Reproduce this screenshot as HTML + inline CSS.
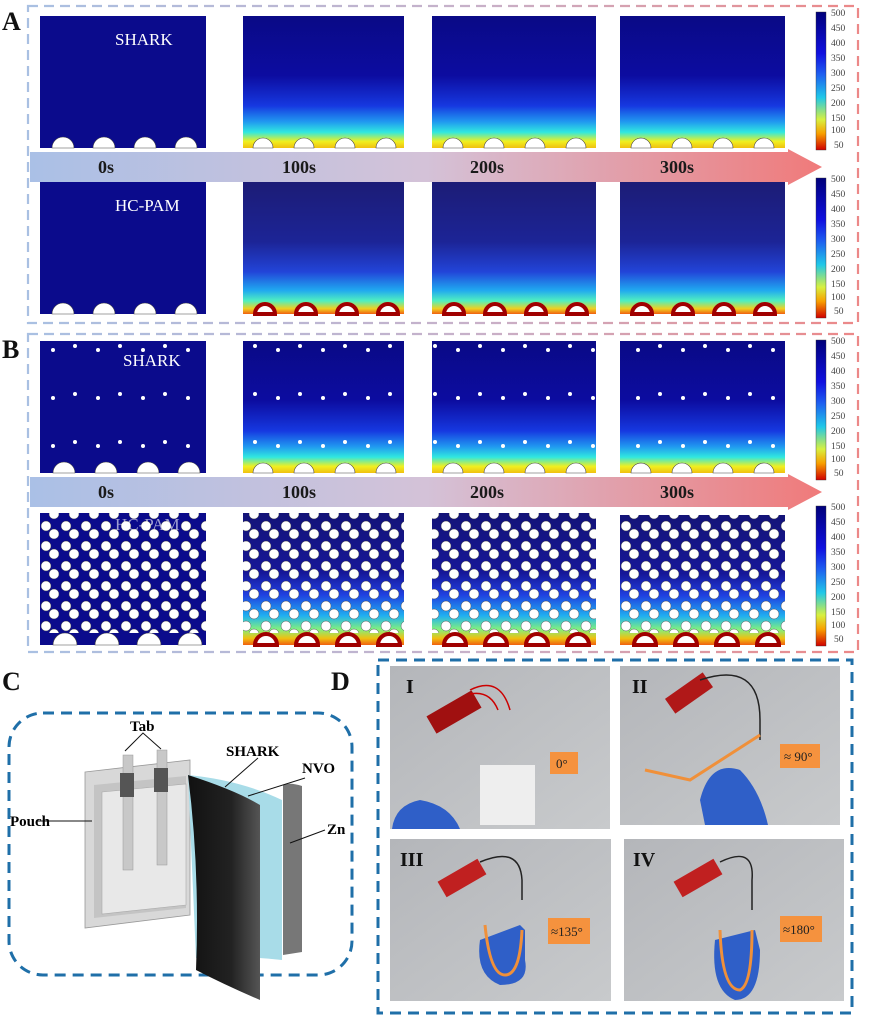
<!DOCTYPE html>
<html><head><meta charset="utf-8"><style>
html,body{margin:0;padding:0;background:#fff;width:870px;height:1028px;overflow:hidden}
svg{display:block}
text{font-family:"Liberation Serif",serif}
.cb{font-family:"Liberation Sans",sans-serif;font-size:9.5px;fill:#444}
.t{font-weight:bold;font-size:18px;fill:#1a1a1a}
.L{font-weight:bold;font-size:26px;fill:#111}
.r{font-weight:bold;font-size:20px;fill:#111}
.o{font-size:13px;fill:#222}
</style></head><body>
<svg width="870" height="1028" viewBox="0 0 870 1028" xmlns="http://www.w3.org/2000/svg">
<defs>
<linearGradient id="bd" x1="0" x2="1"><stop offset="0" stop-color="#a9c0e2"/><stop offset="0.55" stop-color="#c8b0c8"/><stop offset="1" stop-color="#ec8888"/></linearGradient>
<linearGradient id="ar" x1="0" x2="1"><stop offset="0" stop-color="#aac0e6"/><stop offset="0.5" stop-color="#d4c2d8"/><stop offset="1" stop-color="#f07a7a"/></linearGradient>
<linearGradient id="cbg" x1="0" y1="0" x2="0" y2="1"><stop offset="0" stop-color="#00007a"/><stop offset="0.3" stop-color="#1010e0"/><stop offset="0.45" stop-color="#1e5ef0"/><stop offset="0.62" stop-color="#20c8e8"/><stop offset="0.78" stop-color="#d8f040"/><stop offset="0.88" stop-color="#f8a000"/><stop offset="1" stop-color="#d00000"/></linearGradient>
<linearGradient id="gS" x1="0" y1="0" x2="0" y2="1"><stop offset="0" stop-color="#0a0a86"/><stop offset="0.45" stop-color="#0c0ca0"/><stop offset="0.68" stop-color="#1638e0"/><stop offset="0.8" stop-color="#2098f0"/><stop offset="0.88" stop-color="#30e8e0"/><stop offset="0.95" stop-color="#f0f020"/><stop offset="1" stop-color="#f0c010"/></linearGradient>
<linearGradient id="gH" x1="0" y1="0" x2="0" y2="1"><stop offset="0" stop-color="#1c1c76"/><stop offset="0.45" stop-color="#1c2496"/><stop offset="0.68" stop-color="#2244d8"/><stop offset="0.82" stop-color="#20a8f0"/><stop offset="0.9" stop-color="#50f0c0"/><stop offset="0.96" stop-color="#f0d020"/><stop offset="1" stop-color="#f06010"/></linearGradient>
<linearGradient id="gHB" x1="0" y1="0" x2="0" y2="1"><stop offset="0" stop-color="#141478"/><stop offset="0.45" stop-color="#161698"/><stop offset="0.62" stop-color="#2040e0"/><stop offset="0.78" stop-color="#20b0f0"/><stop offset="0.88" stop-color="#80f080"/><stop offset="0.95" stop-color="#f0c010"/><stop offset="1" stop-color="#f06010"/></linearGradient>
<linearGradient id="blk" x1="0" x2="1"><stop offset="0" stop-color="#111"/><stop offset="0.6" stop-color="#222"/><stop offset="1" stop-color="#555"/></linearGradient>
<linearGradient id="ph" x1="0" y1="0" x2="1" y2="1"><stop offset="0" stop-color="#b4b6ba"/><stop offset="1" stop-color="#c8cacc"/></linearGradient>
<pattern id="hp" width="20" height="20" patternUnits="userSpaceOnUse"><circle cx="6" cy="6" r="5" fill="#fff" stroke="#333" stroke-width="0.4"/><circle cx="14" cy="14" r="5" fill="#fff" stroke="#333" stroke-width="0.4"/></pattern>
<pattern id="sp" width="45" height="48" patternUnits="userSpaceOnUse"><circle cx="8" cy="14" r="2" fill="#fff"/><circle cx="30" cy="10" r="2" fill="#fff"/></pattern>
</defs>

<text x="2" y="30" class="L">A</text>
<rect x="28" y="6" width="830" height="317" fill="none" stroke="url(#bd)" stroke-width="2.2" stroke-dasharray="10 6"/>
<rect x="40" y="16" width="166" height="132" fill="#0b0b8c"/>
<rect x="243" y="16" width="161" height="132" fill="url(#gS)"/>
<rect x="432" y="16" width="164" height="132" fill="url(#gS)"/>
<rect x="620" y="16" width="165" height="132" fill="url(#gS)"/>
<text x="115" y="45" font-size="17" fill="#fff">SHARK</text>
<g fill="#fff" stroke="#444" stroke-width="0.6">
<path d="M52 148a11 11 0 0 1 22 0zM93 148a11 11 0 0 1 22 0zM134 148a11 11 0 0 1 22 0zM175 148a11 11 0 0 1 22 0z"/>
<path d="M253 148a10 10 0 0 1 20 0zM294 148a10 10 0 0 1 20 0zM335 148a10 10 0 0 1 20 0zM376 148a10 10 0 0 1 20 0z"/>
<path d="M443 148a10 10 0 0 1 20 0zM484 148a10 10 0 0 1 20 0zM525 148a10 10 0 0 1 20 0zM566 148a10 10 0 0 1 20 0z"/>
<path d="M631 148a10 10 0 0 1 20 0zM672 148a10 10 0 0 1 20 0zM713 148a10 10 0 0 1 20 0zM754 148a10 10 0 0 1 20 0z"/>
</g>
<rect x="816" y="12" width="10" height="138" fill="url(#cbg)" stroke="#333" stroke-width="0.4"/>
<g class="cb"><text x="831" y="16">500</text><text x="831" y="31">450</text><text x="831" y="46">400</text><text x="831" y="61">350</text><text x="831" y="76">300</text><text x="831" y="91">250</text><text x="831" y="106">200</text><text x="831" y="121">150</text><text x="831" y="133">100</text><text x="834" y="148">50</text></g>
<path d="M30 152H788V149L822 167L788 185V182H30Z" fill="url(#ar)"/>
<g class="t"><text x="98" y="173">0s</text><text x="282" y="173">100s</text><text x="470" y="173">200s</text><text x="660" y="173">300s</text></g>
<rect x="40" y="182" width="166" height="132" fill="#0b0b8c"/>
<rect x="243" y="182" width="161" height="132" fill="url(#gH)"/>
<rect x="432" y="182" width="164" height="132" fill="url(#gH)"/>
<rect x="620" y="182" width="165" height="132" fill="url(#gH)"/>
<text x="115" y="211" font-size="17" fill="#fff">HC-PAM</text>
<g fill="#fff" stroke="#444" stroke-width="0.6">
<path d="M52 314a11 11 0 0 1 22 0zM93 314a11 11 0 0 1 22 0zM134 314a11 11 0 0 1 22 0zM175 314a11 11 0 0 1 22 0z"/></g>
<g fill="#fff" stroke="#a00000" stroke-width="4">
<path d="M255 314a10 10 0 0 1 20 0zM296 314a10 10 0 0 1 20 0zM337 314a10 10 0 0 1 20 0zM378 314a10 10 0 0 1 20 0z"/>
<path d="M444 314a10 10 0 0 1 20 0zM485 314a10 10 0 0 1 20 0zM526 314a10 10 0 0 1 20 0zM567 314a10 10 0 0 1 20 0z"/>
<path d="M632 314a10 10 0 0 1 20 0zM673 314a10 10 0 0 1 20 0zM714 314a10 10 0 0 1 20 0zM755 314a10 10 0 0 1 20 0z"/>
</g>
<rect x="816" y="178" width="10" height="140" fill="url(#cbg)" stroke="#333" stroke-width="0.4"/>
<g class="cb"><text x="831" y="182">500</text><text x="831" y="197">450</text><text x="831" y="212">400</text><text x="831" y="227">350</text><text x="831" y="242">300</text><text x="831" y="257">250</text><text x="831" y="272">200</text><text x="831" y="287">150</text><text x="831" y="300">100</text><text x="834" y="314">50</text></g>

<text x="2" y="358" class="L">B</text>
<rect x="28" y="334" width="830" height="318" fill="none" stroke="url(#bd)" stroke-width="2.2" stroke-dasharray="10 6"/>
<rect x="40" y="341" width="166" height="132" fill="#0b0b8c"/>
<rect x="243" y="341" width="161" height="132" fill="url(#gS)"/>
<rect x="432" y="341" width="164" height="132" fill="url(#gS)"/>
<rect x="620" y="341" width="165" height="132" fill="url(#gS)"/>
<rect x="40" y="341" width="166" height="120" fill="url(#sp)"/>
<rect x="243" y="341" width="161" height="120" fill="url(#sp)"/>
<rect x="432" y="341" width="164" height="120" fill="url(#sp)"/>
<rect x="620" y="341" width="165" height="120" fill="url(#sp)"/>
<text x="123" y="366" font-size="17" fill="#fff">SHARK</text>
<g fill="#fff" stroke="#444" stroke-width="0.6">
<path d="M53 473a11 11 0 0 1 22 0zM95 473a11 11 0 0 1 22 0zM137 473a11 11 0 0 1 22 0zM178 473a11 11 0 0 1 22 0z"/>
<path d="M253 473a10 10 0 0 1 20 0zM294 473a10 10 0 0 1 20 0zM335 473a10 10 0 0 1 20 0zM376 473a10 10 0 0 1 20 0z"/>
<path d="M443 473a10 10 0 0 1 20 0zM484 473a10 10 0 0 1 20 0zM525 473a10 10 0 0 1 20 0zM566 473a10 10 0 0 1 20 0z"/>
<path d="M631 473a10 10 0 0 1 20 0zM672 473a10 10 0 0 1 20 0zM713 473a10 10 0 0 1 20 0zM754 473a10 10 0 0 1 20 0z"/>
</g>
<rect x="816" y="340" width="10" height="140" fill="url(#cbg)" stroke="#333" stroke-width="0.4"/>
<g class="cb"><text x="831" y="344">500</text><text x="831" y="359">450</text><text x="831" y="374">400</text><text x="831" y="389">350</text><text x="831" y="404">300</text><text x="831" y="419">250</text><text x="831" y="434">200</text><text x="831" y="449">150</text><text x="831" y="462">100</text><text x="834" y="476">50</text></g>
<path d="M30 477H788V474L822 492L788 510V507H30Z" fill="url(#ar)"/>
<g class="t"><text x="98" y="498">0s</text><text x="282" y="498">100s</text><text x="470" y="498">200s</text><text x="660" y="498">300s</text></g>
<rect x="40" y="513" width="166" height="132" fill="#0b0b8c"/>
<rect x="243" y="513" width="161" height="132" fill="url(#gHB)"/>
<rect x="432" y="513" width="164" height="132" fill="url(#gHB)"/>
<rect x="620" y="515" width="165" height="130" fill="url(#gHB)"/>
<rect x="40" y="513" width="166" height="120" fill="url(#hp)"/>
<rect x="243" y="513" width="161" height="120" fill="url(#hp)"/>
<rect x="432" y="513" width="164" height="120" fill="url(#hp)"/>
<rect x="620" y="515" width="165" height="118" fill="url(#hp)"/>
<text x="115" y="530" font-size="17" fill="#fff" opacity="0.6">HC-PAM</text>
<g fill="#fff" stroke="#444" stroke-width="0.6">
<path d="M53 645a12 12 0 0 1 24 0zM95 645a12 12 0 0 1 24 0zM137 645a12 12 0 0 1 24 0zM178 645a12 12 0 0 1 24 0z"/></g>
<g fill="#fff" stroke="#a00000" stroke-width="4">
<path d="M255 645a11 11 0 0 1 22 0zM296 645a11 11 0 0 1 22 0zM337 645a11 11 0 0 1 22 0zM378 645a11 11 0 0 1 22 0z"/>
<path d="M444 645a11 11 0 0 1 22 0zM485 645a11 11 0 0 1 22 0zM526 645a11 11 0 0 1 22 0zM567 645a11 11 0 0 1 22 0z"/>
<path d="M634 645a11 11 0 0 1 22 0zM675 645a11 11 0 0 1 22 0zM716 645a11 11 0 0 1 22 0zM757 645a11 11 0 0 1 22 0z"/>
</g>
<rect x="816" y="506" width="10" height="140" fill="url(#cbg)" stroke="#333" stroke-width="0.4"/>
<g class="cb"><text x="831" y="510">500</text><text x="831" y="525">450</text><text x="831" y="540">400</text><text x="831" y="555">350</text><text x="831" y="570">300</text><text x="831" y="585">250</text><text x="831" y="600">200</text><text x="831" y="615">150</text><text x="831" y="628">100</text><text x="834" y="642">50</text></g>

<text x="2" y="690" class="L">C</text>
<rect x="9" y="713" width="343" height="262" rx="34" fill="none" stroke="#1f6fa8" stroke-width="3" stroke-dasharray="11 7"/>
<path d="M85 772L190 760V915L85 928Z" fill="#d8d8d8" stroke="#999" stroke-width="0.8"/>
<path d="M94 785L186 776V908L94 918Z" fill="#c4c4c4"/>
<path d="M102 792L186 784V905L102 914Z" fill="#e8e8e8" stroke="#aaa" stroke-width="0.6"/>
<rect x="123" y="755" width="10" height="115" fill="#c8c8c8" stroke="#999" stroke-width="0.5"/>
<rect x="157" y="750" width="10" height="115" fill="#c8c8c8" stroke="#999" stroke-width="0.5"/>
<rect x="120" y="773" width="14" height="24" fill="#555"/>
<rect x="154" y="768" width="14" height="24" fill="#555"/>
<path d="M125 751L143 733L161 749" fill="none" stroke="#111" stroke-width="1"/>
<text x="130" y="731" font-size="15" font-weight="bold">Tab</text>
<path d="M283 785Q290 782 302 786V952L283 955Z" fill="#777"/>
<path d="M188 775Q240 780 282 800V960Q240 955 196 958Z" fill="#a8dce8"/>
<path d="M188 775Q235 790 260 805V1000Q225 985 196 970Q200 870 188 775Z" fill="url(#blk)"/>
<path d="M36 821H92" stroke="#111" stroke-width="1"/>
<text x="10" y="826" font-size="15" font-weight="bold">Pouch</text>
<path d="M225 787L258 758" stroke="#111"/>
<text x="226" y="756" font-size="15" font-weight="bold">SHARK</text>
<path d="M248 796L305 778" stroke="#111"/>
<text x="302" y="773" font-size="15" font-weight="bold">NVO</text>
<path d="M290 843L325 830" stroke="#111"/>
<text x="327" y="834" font-size="15" font-weight="bold">Zn</text>

<text x="331" y="690" class="L">D</text>
<path d="M378 660H852V1013H378Z" fill="none" stroke="#1f6fa8" stroke-width="3" stroke-dasharray="11 7"/>
<rect x="390" y="666" width="220" height="163" fill="url(#ph)"/>
<rect x="620" y="666" width="220" height="159" fill="url(#ph)"/>
<rect x="390" y="839" width="221" height="162" fill="url(#ph)"/>
<rect x="624" y="839" width="220" height="162" fill="url(#ph)"/>
<rect x="444" y="686" width="20" height="52" fill="#a01010" transform="rotate(60 454 712)"/>
<path d="M470 690Q500 675 510 710M470 694Q490 690 498 710" fill="none" stroke="#c00" stroke-width="1.5"/>
<rect x="480" y="765" width="55" height="60" fill="#eee"/>
<path d="M392 829Q395 805 420 800Q450 805 460 829Z" fill="#2f5fc8"/>
<rect x="550" y="752" width="28" height="22" fill="#f5923e"/><text x="556" y="768" class="o">0°</text>
<text x="406" y="693" class="r">I</text>
<rect x="680" y="670" width="18" height="46" fill="#b01818" transform="rotate(55 689 693)"/>
<path d="M700 680Q760 660 760 720V740" fill="none" stroke="#222" stroke-width="1.5"/>
<path d="M645 770L690 780L760 735" fill="none" stroke="#f0903a" stroke-width="3"/>
<path d="M700 800Q710 760 740 770Q760 790 768 825H705Z" fill="#2f5fc8"/>
<rect x="780" y="744" width="40" height="24" fill="#f5923e"/><text x="784" y="761" class="o">≈ 90°</text>
<text x="632" y="693" class="r">II</text>
<rect x="453" y="855" width="18" height="46" fill="#c02020" transform="rotate(60 462 878)"/>
<path d="M480 862Q520 845 522 880V900" fill="none" stroke="#222" stroke-width="1.5"/>
<path d="M480 940Q475 975 500 985Q530 985 525 960V930L520 925" fill="#2f5fc8"/>
<path d="M485 925Q490 975 505 975Q520 975 522 930" fill="none" stroke="#f0903a" stroke-width="3"/>
<rect x="548" y="918" width="42" height="26" fill="#f5923e"/><text x="551" y="936" class="o">≈135°</text>
<text x="400" y="866" class="r">III</text>
<rect x="689" y="855" width="18" height="46" fill="#c02020" transform="rotate(60 698 878)"/>
<path d="M720 862Q755 845 752 880V910" fill="none" stroke="#222" stroke-width="1.5"/>
<path d="M715 940Q710 990 735 1000Q760 1000 760 950L755 930Z" fill="#2f5fc8"/>
<path d="M720 930Q722 990 740 990Q752 985 752 930" fill="none" stroke="#f0903a" stroke-width="3"/>
<rect x="780" y="916" width="42" height="26" fill="#f5923e"/><text x="783" y="934" class="o">≈180°</text>
<text x="633" y="866" class="r">IV</text>
</svg>
</body></html>
